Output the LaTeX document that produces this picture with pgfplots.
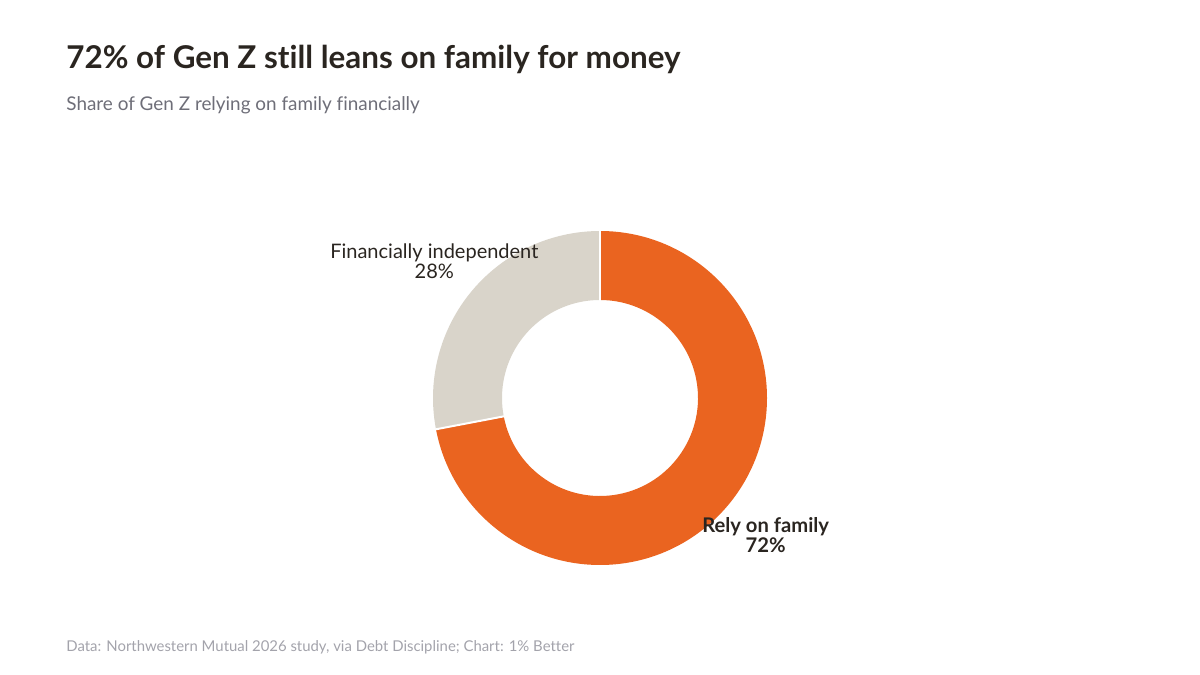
\documentclass[border=0pt]{standalone}
\usepackage{pgfplots}
\pgfplotsset{compat=1.18}
\usepackage{pgfplotstable}
\usepackage{fontspec}
\setmainfont{Lato}[Ligatures={NoCommon}]
\usetikzlibrary{calc}

\definecolor{relyC}{HTML}{EA6420}
\definecolor{indepC}{HTML}{D9D4CA}
\definecolor{titleC}{HTML}{2A2520}
\definecolor{subC}{HTML}{6E6E78}
\definecolor{footC}{HTML}{A3A3AB}

% share of Gen Z, percent
\pgfplotstableread[col sep=comma]{
label,value
Rely on family,72
Financially independent,28
}\sharetable

\begin{document}
\begin{tikzpicture}
\pgfplotstablegetelem{0}{value}\of\sharetable \let\vRely\pgfplotsretval
\pgfplotstablegetelem{1}{value}\of\sharetable \let\vIndep\pgfplotsretval
\pgfmathsetmacro\aSplit{90-3.6*\vRely}
\pgfmathsetmacro\aRelyMid{90-1.8*\vRely}
\pgfmathsetmacro\aIndepMid{\aSplit-1.8*\vIndep}
\pgfmathsetmacro\aIndepEnd{\aSplit-3.6*\vIndep}

\begin{axis}[
    scale only axis,
    width=600pt, height=337.5pt,
    xmin=0, xmax=1200, ymin=0, ymax=675,
    hide axis, clip=false,
]
\path (axis cs:0,0) rectangle (axis cs:1200,675);
\coordinate (C) at (axis cs:600,277);

% donut ring, 1px = 0.5pt
\fill[relyC] ($(C)+(90:83.5pt)$) arc[start angle=90, end angle=\aSplit, radius=83.5pt]
    -- ($(C)+(\aSplit:49pt)$) arc[start angle=\aSplit, end angle=90, radius=49pt] -- cycle;
\fill[indepC] ($(C)+(\aSplit:83.5pt)$) arc[start angle=\aSplit, end angle=\aIndepEnd, radius=83.5pt]
    -- ($(C)+(\aIndepEnd:49pt)$) arc[start angle=\aIndepEnd, end angle=\aSplit, radius=49pt] -- cycle;
\draw[white, line width=1pt] ($(C)+(90:48pt)$) -- ($(C)+(90:84.5pt)$);
\draw[white, line width=1pt] ($(C)+(\aSplit:48pt)$) -- ($(C)+(\aSplit:84.5pt)$);

\node[align=center, text=titleC, font=\fontsize{10.1}{10.2}\selectfont\bfseries]
    at ($(C)+(\aRelyMid:107.5pt)$) {Rely on family\\72\%};
\node[align=center, text=titleC, font=\fontsize{10}{10.2}\selectfont]
    at ($(C)+(\aIndepMid:107.5pt)$) {Financially independent\\28\%};

\node[anchor=base west, inner sep=0, text=titleC, font=\fontsize{15.7}{17}\selectfont\bfseries]
    at (axis cs:66,606) {72\% of Gen Z still leans on family for money};
\node[anchor=base west, inner sep=0, text=subC, font=\fontsize{9.45}{11}\selectfont]
    at (axis cs:66,564) {Share of Gen Z relying on family financially};
\node[anchor=base west, inner sep=0, text=footC, font=\fontsize{7.45}{8}\selectfont]
    at (axis cs:66,24) {Data: Northwestern Mutual 2026 study, via Debt Discipline; Chart: 1\% Better};
\end{axis}
\end{tikzpicture}
\end{document}
